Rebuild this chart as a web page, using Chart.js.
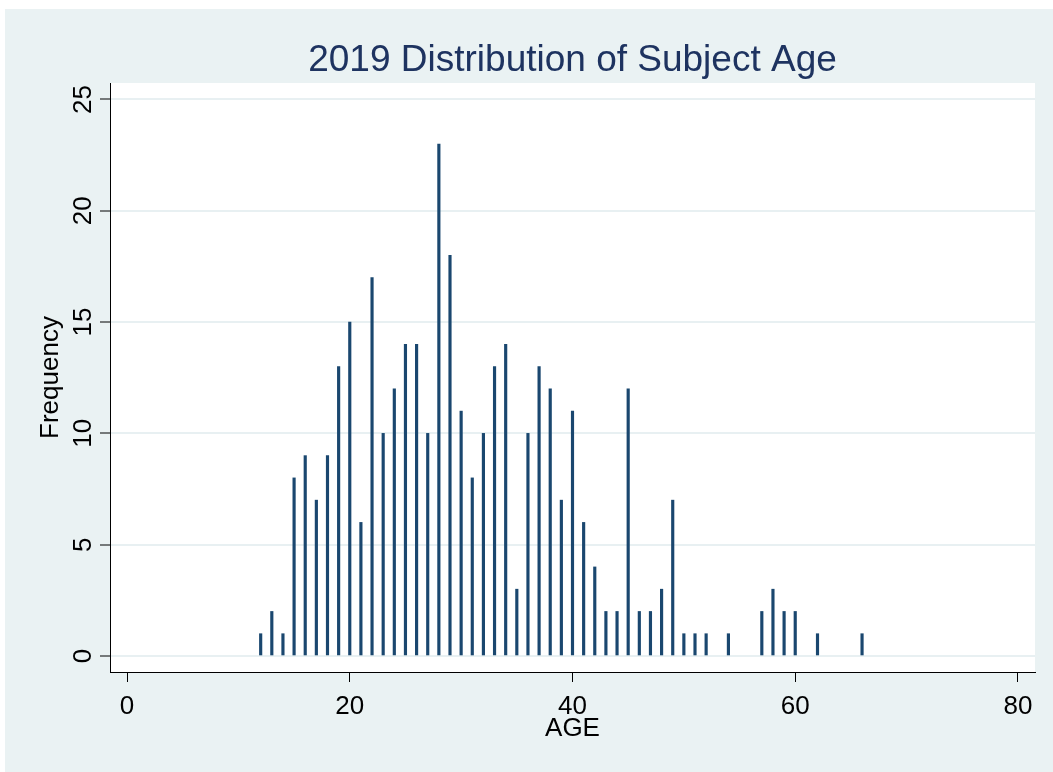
<!DOCTYPE html>
<html>
<head>
<meta charset="utf-8">
<script src="https://cdn.jsdelivr.net/npm/chart.js@4"></script>
<style>
  html, body { margin: 0; padding: 0; background: #ffffff; }
  #wrap { position: absolute; left: 0; top: 0; width: 1053px; height: 772px; }
</style>
</head>
<body>
<div id="wrap"><canvas id="c" width="1053" height="772"></canvas></div>
<script>
const titleText = "2019 Distribution of Subject Age";
const xTitle = "AGE";
const yTitle = "Frequency";
const ages   = [12,13,14,15,16,17,18,19,20,21,22,23,24,25,26,27,28,29,30,31,32,33,34,35,36,37,38,39,40,41,42,43,44,45,46,47,48,49,50,51,52,54,57,58,59,60,62,66];
const counts = [ 1, 2, 1, 8, 9, 7, 9,13,15, 6,17,10,12,14,14,10,23,18,11, 8,10,13,14, 3,10,13,12, 7,11, 6, 4, 2, 2,12, 2, 2, 3, 7, 1, 1, 1, 1, 2, 3, 2, 2, 1, 1];
const xTicks = [0, 20, 40, 60, 80];
const yTicks = [0, 5, 10, 15, 20, 25];

const FONT = "'Liberation Sans', Arial, Helvetica, sans-serif";
const BG = '#eaf2f3';
const BAR = '#1a476f';

const bgPlugin = {
  id: 'bg',
  beforeDraw(chart) {
    const ctx = chart.ctx, a = chart.chartArea;
    ctx.save();
    ctx.fillStyle = '#ffffff';
    ctx.fillRect(0, 0, chart.width, chart.height);
    ctx.fillStyle = BG;
    ctx.fillRect(5, 9, chart.width - 5, chart.height - 9);
    ctx.fillStyle = '#ffffff';
    ctx.fillRect(a.left, a.top, a.right - a.left, a.bottom - a.top);
    ctx.restore();
  }
};

const yLabelPlugin = {
  id: 'yLabels',
  afterDraw(chart) {
    const ctx = chart.ctx, ys = chart.scales.y;
    ctx.save();
    ctx.fillStyle = '#000000';
    ctx.font = '26px ' + FONT;
    ctx.textAlign = 'center';
    ctx.textBaseline = 'alphabetic';
    yTicks.forEach(v => {
      const py = ys.getPixelForValue(v);
      ctx.save();
      ctx.translate(91, py);
      ctx.rotate(-Math.PI / 2);
      ctx.fillText(String(v), 0, 0);
      ctx.restore();
    });
    ctx.restore();
  }
};

new Chart(document.getElementById('c'), {
  type: 'bar',
  data: {
    datasets: [{
      data: ages.map((a, i) => ({ x: a, y: counts[i] })),
      backgroundColor: BAR,
      borderWidth: 0,
      barThickness: 2.5,
      grouped: false
    }]
  },
  options: {
    responsive: false,
    animation: false,
    devicePixelRatio: 1,
    layout: { padding: { left: 0, right: 18, top: 0, bottom: 0 } },
    plugins: {
      legend: { display: false },
      tooltip: { enabled: false },
      title: {
        display: true,
        text: titleText,
        fullSize: false,
        color: '#1e3360',
        font: { family: FONT, size: 37, weight: 'normal', lineHeight: 1.15 },
        padding: { top: 40, bottom: 0.45 }
      }
    },
    scales: {
      x: {
        type: 'linear',
        offset: false,
        min: -1.53,
        max: 81.53,
        afterBuildTicks(s) { s.ticks = xTicks.map(v => ({ value: v })); },
        afterFit(s) { s.height = 100; },
        border: { display: true, color: '#000000', width: 1 },
        grid: { display: true, offset: false, drawOnChartArea: false, drawTicks: true, tickLength: 10, tickColor: '#000000', tickWidth: 1 },
        ticks: { color: '#000000', font: { family: FONT, size: 26 }, padding: 9, maxRotation: 0, minRotation: 0, autoSkip: false },
        title: { display: true, text: xTitle, color: '#000000', font: { family: FONT, size: 26, lineHeight: 1.2 }, padding: { top: 0, bottom: 28 } }
      },
      y: {
        type: 'linear',
        min: -0.72,
        max: 25.74,
        afterBuildTicks(s) { s.ticks = yTicks.map(v => ({ value: v })); },
        afterFit(s) { s.width = 110; },
        border: { display: true, color: '#000000', width: 1 },
        grid: { display: true, drawOnChartArea: true, color: '#e8f0f2', lineWidth: 2, drawTicks: true, tickLength: 10, tickColor: '#000000', tickWidth: 1 },
        ticks: { display: false },
        title: { display: true, text: yTitle, color: '#000000', font: { family: FONT, size: 26, lineHeight: 1.2 }, padding: { top: 35, bottom: 0 } }
      }
    }
  },
  plugins: [bgPlugin, yLabelPlugin]
});
</script>
</body>
</html>
